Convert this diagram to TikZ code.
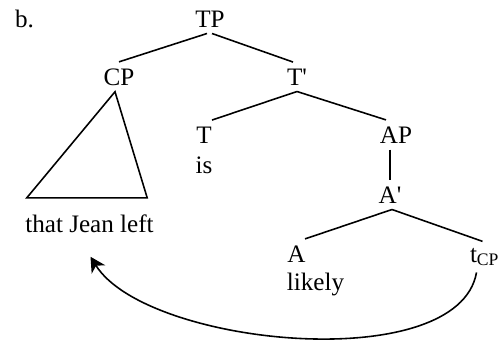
\documentclass[tikz,border=0pt]{standalone}
\usepackage{fontspec}
\setmainfont{Liberation Serif}
\usepackage{tikz}
\usetikzlibrary{arrows.meta,positioning}

\begin{document}
\begin{tikzpicture}[
    cat/.style={inner sep=3.5pt, anchor=base},
    branch/.style={line width=0.9pt},
    font=\fontsize{14.3}{17}\selectfont,
    >={Stealth[length=8.5pt, width=9pt, inset=2.5pt]}
]
    \useasboundingbox (0,0) rectangle (10,-6.84);

    \node[cat, anchor=base west] (label) at (0.17, -0.54) {b.};

    % Categories
    \node[cat] (tp) at (4.2, -0.54) {TP};
    \node[cat] (cp) at (2.38, -1.70) {CP};
    \node[cat] (tbar) at (5.94, -1.70) {T\textquotesingle};
    \node[cat] (t) at (4.08, -2.86) {T};
    \node[cat] (is) at (4.08, -3.46) {is};
    \node[cat] (ap) at (7.92, -2.86) {AP};
    \node[cat] (abar) at (7.80, -4.06) {A\textquotesingle};
    \node[cat] (a) at (5.93, -5.24) {A};
    \node[cat] (likely) at (6.31, -5.80) {likely};
    \node[cat, anchor=base west] (tcp) at (9.27, -5.24) {t\textsubscript{CP}};
    \node[cat] (jean) at (1.79, -4.64) {that Jean left};

    % Branches
    \draw[branch] ([xshift=-0.06cm]tp.south) -- (cp.north);
    \draw[branch] ([xshift=0.04cm]tp.south) -- ([xshift=-0.08cm]tbar.north);
    \draw[branch] (tbar.south) -- ([xshift=0.16cm]t.north);
    \draw[branch] (tbar.south) -- ([xshift=-0.2cm]ap.north);
    \draw[branch] (abar.north |- ap.south) -- (abar.north);
    \draw[branch] ([xshift=0.04cm]abar.south) -- ([xshift=0.17cm]a.north);
    \draw[branch] ([xshift=0.04cm]abar.south) -- ([xshift=0.38cm]tcp.north west);

    % Triangle over the CP
    \draw[branch] ([xshift=-0.08cm]cp.south) -- ([xshift=0.16cm, yshift=0.2cm]jean.north west)
        -- ([xshift=-0.26cm, yshift=0.2cm]jean.north east) -- cycle;

    % Movement
    \draw[branch, ->] ([xshift=0.26cm]tcp.south west) to[out=-100, in=-58, looseness=0.7]
        ([xshift=0.02cm, yshift=-0.36cm]jean.south);
\end{tikzpicture}
\end{document}
